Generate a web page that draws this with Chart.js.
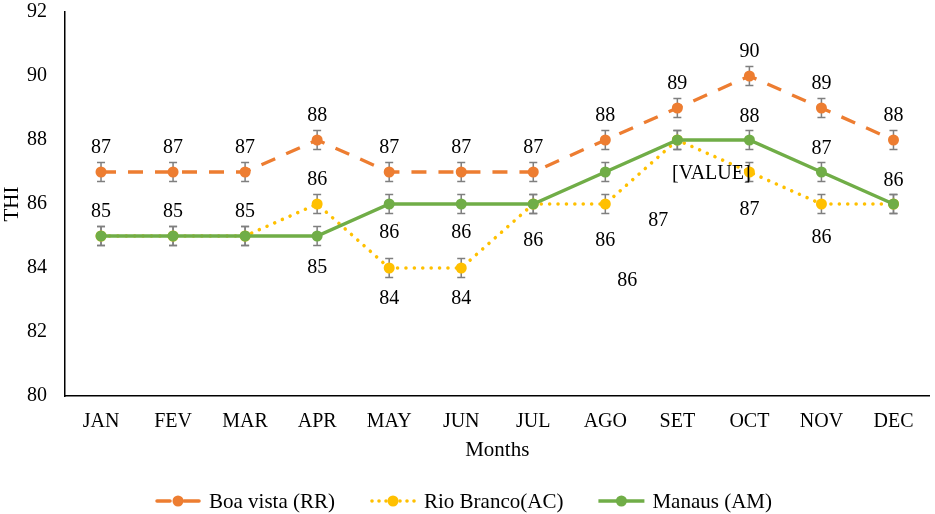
<!DOCTYPE html>
<html>
<head>
<meta charset="utf-8">
<script src="https://cdn.jsdelivr.net/npm/chart.js@4.4.1/dist/chart.umd.min.js"></script>
<style>
  html, body { margin: 0; padding: 0; background: #fff; }
  #wrap { width: 935px; height: 514px; position: relative; }
</style>
</head>
<body>
<div id="wrap"><canvas id="c"></canvas></div>
<script>
// ---- Data ----
const months = ['JAN','FEV','MAR','APR','MAY','JUN','JUL','AGO','SET','OCT','NOV','DEC'];
const boaVista  = [87, 87, 87, 88, 87, 87, 87, 88, 89, 90, 89, 88];
const rioBranco = [85, 85, 85, 86, 84, 84, 86, 86, 88, 87, 86, 86];
const manaus    = [85, 85, 85, 85, 86, 86, 86, 87, 88, 88, 87, 86];
const boaVistaErr  = [0.3, 0.3, 0.3, 0.3, 0.3, 0.3, 0.3, 0.3, 0.3, 0.3, 0.3, 0.3];
const rioBrancoErr = [0.3, 0.3, 0.3, 0.3, 0.3, 0.3, 0.3, 0.3, 0.3, 0.3, 0.3, 0.3];
const manausErr    = [0.3, 0.3, 0.3, 0.3, 0.3, 0.3, 0.3, 0.3, 0.3, 0.3, 0.3, 0.3];
const yTicks = [80, 82, 84, 86, 88, 90, 92];
const seriesNames = ['Boa vista (RR)', 'Rio Branco(AC)', 'Manaus (AM)'];
const rioBrancoLabelText = [null, null, null, null, null, null, null, null, '[VALUE]', null, null, null];

// ---- Styling (label placement offsets in px; null = label hidden) ----
const FONT = '"Liberation Serif", "Times New Roman", serif';
const colors = ['#ED7D31', '#FFC000', '#70AD47'];
const boaLabelOff = months.map(() => [0, -24]);
const rioLabelOff = [null, null, null, [0, -24], [0, 31], [0, 31], [94, 77], [0, 37], [34, 34], [0, 38], [0, 34], null];
const manLabelOff = [[0, -24], [0, -24], [0, -24], [0, 32], [0, 29], [0, 29], [0, 37], [53, 49], null, [0, -23], [0, -23], [0, -23]];

function drawSample(g, x0, yc, color, kind) {
  g.save();
  g.strokeStyle = color; g.fillStyle = color; g.lineWidth = 3.5;
  if (kind === 'dash') {
    g.lineCap = 'round';
    g.beginPath(); g.moveTo(x0 + 2, yc); g.lineTo(x0 + 15, yc); g.stroke();
    g.beginPath(); g.moveTo(x0 + 29, yc); g.lineTo(x0 + 44, yc); g.stroke();
  } else if (kind === 'dot') {
    [2, 9, 16, 30, 37, 44].forEach(dx => { g.beginPath(); g.arc(x0 + dx, yc, 1.8, 0, Math.PI * 2); g.fill(); });
  } else {
    g.beginPath(); g.moveTo(x0, yc); g.lineTo(x0 + 46, yc); g.stroke();
  }
  g.beginPath(); g.arc(x0 + 23, yc, 5.5, 0, Math.PI * 2); g.fill();
  g.restore();
}
const sampleKinds = ['dash', 'dot', 'solid'];

const errorBarPlugin = {
  id: 'errorBars',
  beforeDatasetsDraw(chart) {
    const ctx = chart.ctx, ys = chart.scales.y;
    ctx.save();
    ctx.strokeStyle = '#7F7F7F';
    ctx.lineWidth = 1.5;
    chart.data.datasets.forEach((ds, i) => {
      const meta = chart.getDatasetMeta(i);
      ds.data.forEach((v, j) => {
        const e = ds.errors[j];
        const x = meta.data[j].x;
        const t = ys.getPixelForValue(v + e), b = ys.getPixelForValue(v - e);
        ctx.beginPath();
        ctx.moveTo(x, t); ctx.lineTo(x, b);
        ctx.moveTo(x - 4, t); ctx.lineTo(x + 4, t);
        ctx.moveTo(x - 4, b); ctx.lineTo(x + 4, b);
        ctx.stroke();
      });
    });
    ctx.restore();
  }
};

const labelPlugin = {
  id: 'valueLabels',
  afterDatasetsDraw(chart) {
    const ctx = chart.ctx;
    ctx.save();
    ctx.font = '20px ' + FONT;
    ctx.fillStyle = '#000';
    ctx.textAlign = 'center';
    ctx.textBaseline = 'middle';
    chart.data.datasets.forEach((ds, i) => {
      const meta = chart.getDatasetMeta(i);
      ds.data.forEach((v, j) => {
        const off = ds.labelOff[j];
        if (!off) return;
        const txt = (ds.labelText && ds.labelText[j]) || String(v);
        const p = meta.data[j];
        ctx.fillText(txt, p.x + off[0], p.y + off[1]);
      });
    });
    ctx.restore();
  }
};

const legendPlugin = {
  id: 'customLegend',
  afterDraw(chart) {
    const ctx = chart.ctx;
    ctx.save();
    ctx.font = '21px ' + FONT;
    ctx.textBaseline = 'middle';
    ctx.textAlign = 'left';
    ctx.fillStyle = '#000';
    const sampleW = 46, gap = 8, itemGap = 35;
    const names = chart.data.datasets.map(d => d.label);
    const widths = names.map(n => sampleW + gap + ctx.measureText(n).width);
    const total = widths.reduce((a, b) => a + b, 0) + itemGap * (names.length - 1);
    let x = chart.width / 2 - total / 2 - 4;
    const yc = 501;
    names.forEach((n, i) => {
      drawSample(ctx, x, yc, chart.data.datasets[i].borderColor, sampleKinds[i]);
      ctx.fillText(n, x + sampleW + gap, yc + 1);
      x += widths[i] + itemGap;
    });
    ctx.restore();
  }
};

new Chart(document.getElementById('c'), {
  type: 'line',
  data: {
    labels: months,
    datasets: [
      {
        label: seriesNames[0], data: boaVista, errors: boaVistaErr, labelOff: boaLabelOff,
        borderColor: colors[0], backgroundColor: colors[0], borderWidth: 3.3,
        borderDash: [15, 12], pointRadius: 5.5, pointBorderWidth: 0, tension: 0, order: 2
      },
      {
        label: seriesNames[1], data: rioBranco, errors: rioBrancoErr, labelOff: rioLabelOff, labelText: rioBrancoLabelText,
        borderColor: colors[1], backgroundColor: colors[1], borderWidth: 3.5,
        borderDash: [0.1, 8.3], borderCapStyle: 'round', pointRadius: 5.5, pointBorderWidth: 0, tension: 0, order: 1
      },
      {
        label: seriesNames[2], data: manaus, errors: manausErr, labelOff: manLabelOff,
        borderColor: colors[2], backgroundColor: colors[2], borderWidth: 3.5,
        pointRadius: 5.5, pointBorderWidth: 0, tension: 0, order: 0
      }
    ]
  },
  options: {
    responsive: true,
    maintainAspectRatio: false,
    animation: false,
    events: [],
    layout: { padding: { top: 0, right: 3, left: 0, bottom: 51.4 } },
    scales: {
      x: {
        offset: true,
        afterFit(scale) { scale.height = 66.6; },
        grid: { display: false, drawTicks: false },
        border: { display: true, color: '#000', width: 1.5 },
        ticks: { color: '#000', font: { family: FONT, size: 20 }, padding: 14, maxRotation: 0, autoSkip: false },
        title: { display: true, text: 'Months', color: '#000', font: { family: FONT, size: 21 }, padding: { top: 0, bottom: 0 } }
      },
      y: {
        min: 80, max: 92,
        afterBuildTicks(scale) { scale.ticks = yTicks.map(v => ({ value: v })); },
        afterFit(scale) { scale.width = 65; scale.paddingTop = 12; scale.paddingBottom = 0; },
        grid: { display: false, drawTicks: false },
        border: { display: true, color: '#000', width: 1.5 },
        ticks: { color: '#000', font: { family: FONT, size: 20 }, padding: 18 },
        title: { display: true, text: 'THI', color: '#000', font: { family: FONT, size: 21 }, padding: 0 }
      }
    },
    plugins: {
      tooltip: { enabled: false },
      legend: { display: false }
    }
  },
  plugins: [errorBarPlugin, labelPlugin, legendPlugin]
});
</script>
</body>
</html>
